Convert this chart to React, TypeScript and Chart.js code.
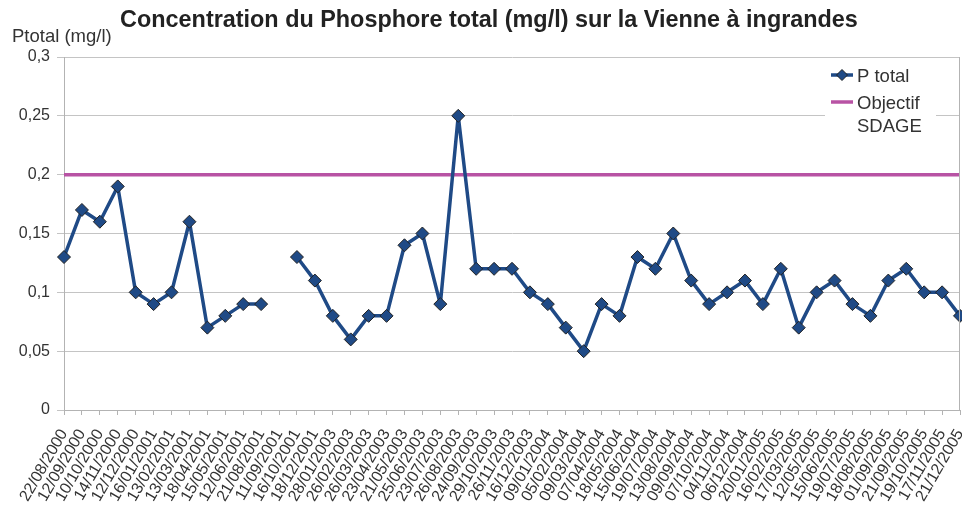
import { useEffect, useRef } from 'react';
import { Chart, registerables } from 'chart.js';

Chart.register(...registerables);

const TITLE = 'Concentration du Phosphore total (mg/l) sur la Vienne à ingrandes';
const Y_TITLE = 'Ptotal (mg/l)';

const dates = [
  '22/08/2000', '12/09/2000', '10/10/2000', '14/11/2000', '12/12/2000', '16/01/2001',
  '13/02/2001', '13/03/2001', '18/04/2001', '15/05/2001', '12/06/2001', '21/08/2001',
  '11/09/2001', '16/10/2001', '18/12/2001', '28/01/2003', '26/02/2003', '26/03/2003',
  '23/04/2003', '21/05/2003', '25/06/2003', '23/07/2003', '26/08/2003', '24/09/2003',
  '29/10/2003', '26/11/2003', '16/12/2003', '09/01/2004', '05/02/2004', '09/03/2004',
  '07/04/2004', '18/05/2004', '15/06/2004', '19/07/2004', '13/08/2004', '09/09/2004',
  '07/10/2004', '04/11/2004', '06/12/2004', '20/01/2005', '16/02/2005', '17/03/2005',
  '12/05/2005', '15/06/2005', '19/07/2005', '18/08/2005', '01/09/2005', '21/09/2005',
  '19/10/2005', '17/11/2005', '21/12/2005',
];

const pTotal: (number | null)[] = [
  0.13, 0.17, 0.16, 0.19, 0.10, 0.09, 0.10, 0.16, 0.07, 0.08, 0.09, 0.09,
  null, 0.13, 0.11, 0.08, 0.06, 0.08, 0.08, 0.14, 0.15, 0.09, 0.25, 0.12,
  0.12, 0.12, 0.10, 0.09, 0.07, 0.05, 0.09, 0.08, 0.13, 0.12, 0.15, 0.11,
  0.09, 0.10, 0.11, 0.09, 0.12, 0.07, 0.10, 0.11, 0.09, 0.08, 0.11, 0.12,
  0.10, 0.10, 0.08,
];

const OBJECTIF_SDAGE = 0.2;
const objectif = dates.map(() => OBJECTIF_SDAGE);

const yTicks = { min: 0, max: 0.3, step: 0.05 };

const BLUE = '#1f4a86';
const MAGENTA = '#b853a4';
const TEXT = '#333333';
const FONT = "'Liberation Sans', Arial, sans-serif";

const extras = {
  id: 'extras',
  afterDraw(chart: any) {
    const ctx = chart.ctx;
    const area = chart.chartArea;
    ctx.save();
    // right border
    ctx.strokeStyle = '#b3b3b3';
    ctx.lineWidth = 1;
    ctx.beginPath();
    ctx.moveTo(area.right - 0.5, area.top);
    ctx.lineTo(area.right - 0.5, area.bottom);
    ctx.stroke();

    // title
    ctx.fillStyle = '#222222';
    ctx.font = `bold 23.4px ${FONT}`;
    ctx.textAlign = 'center';
    ctx.textBaseline = 'middle';
    ctx.fillText(TITLE, 489, 21);

    // y title
    ctx.fillStyle = TEXT;
    ctx.font = `18.5px ${FONT}`;
    ctx.textAlign = 'left';
    ctx.fillText(Y_TITLE, 12, 37);

    // legend
    const lx = 825;
    ctx.fillStyle = '#ffffff';
    ctx.fillRect(lx, 62, 111, 80);
    const ds = chart.data.datasets;
    // P total
    ctx.strokeStyle = BLUE;
    ctx.lineWidth = 3.5;
    ctx.beginPath();
    ctx.moveTo(lx + 6, 75);
    ctx.lineTo(lx + 28, 75);
    ctx.stroke();
    ctx.fillStyle = BLUE;
    ctx.strokeStyle = '#222';
    ctx.lineWidth = 1;
    ctx.beginPath();
    const cx = lx + 17, cy = 75, r = 5.5;
    ctx.moveTo(cx, cy - r);
    ctx.lineTo(cx + r, cy);
    ctx.lineTo(cx, cy + r);
    ctx.lineTo(cx - r, cy);
    ctx.closePath();
    ctx.fill();
    ctx.stroke();
    ctx.fillStyle = TEXT;
    ctx.font = `18.5px ${FONT}`;
    ctx.textAlign = 'left';
    ctx.textBaseline = 'middle';
    ctx.fillText(ds[0].label, lx + 32, 77);
    // Objectif
    ctx.strokeStyle = MAGENTA;
    ctx.lineWidth = 3.5;
    ctx.beginPath();
    ctx.moveTo(lx + 6, 102);
    ctx.lineTo(lx + 28, 102);
    ctx.stroke();
    const parts = String(ds[1].label).split(' ');
    ctx.fillStyle = TEXT;
    ctx.fillText(parts[0], lx + 32, 104);
    ctx.fillText(parts[1], lx + 32, 127);
    ctx.restore();
  },
};

export default function App() {
  const ref = useRef<HTMLCanvasElement>(null);
  useEffect(() => {
    const chart = new Chart(ref.current as HTMLCanvasElement, {
      type: 'line',
      data: {
        labels: dates,
        datasets: [
          {
            label: 'P total',
            data: pTotal,
            borderColor: BLUE,
            backgroundColor: BLUE,
            borderWidth: 3.5,
            borderJoinStyle: 'round',
            pointStyle: 'rectRot',
            pointRadius: 6.5,
            pointBackgroundColor: BLUE,
            pointBorderColor: '#222222',
            pointBorderWidth: 1,
            spanGaps: false,
            tension: 0,
            order: 0,
          },
          {
            label: 'Objectif SDAGE',
            data: objectif,
            borderColor: MAGENTA,
            backgroundColor: MAGENTA,
            borderWidth: 3.5,
            pointRadius: 0,
            tension: 0,
            order: 1,
          },
        ],
      },
      options: {
        animation: false,
        responsive: false,
        maintainAspectRatio: false,
        layout: { autoPadding: false, padding: { top: 57, right: 2, left: 0, bottom: 0 } },
        plugins: {
          legend: { display: false },
          title: { display: false },
          tooltip: { enabled: false },
        },
        scales: {
          x: {
            offset: false,
            grid: { drawOnChartArea: false, drawTicks: true, tickLength: 5, color: '#b3b3b3' },
            border: { color: '#b3b3b3' },
            ticks: {
              autoSkip: false,
              maxRotation: 60,
              minRotation: 60,
              color: TEXT,
              font: { family: FONT, size: 16 },
              padding: 11,
            },
            afterFit(scale: any) {
              scale.height = 96;
              scale.paddingLeft = 0;
              scale.paddingRight = 0;
            },
          },
          y: {
            min: yTicks.min,
            max: yTicks.max,
            grid: { color: '#c4c4c4', tickLength: 7 },
            border: { color: '#b3b3b3' },
            ticks: {
              stepSize: yTicks.step,
              color: TEXT,
              font: { family: FONT, size: 16 },
              padding: 7,
              callback: (v: any) => Number(Number(v).toFixed(2)).toString().replace('.', ','),
            },
            afterFit(scale: any) {
              scale.width = 64;
            },
          },
        },
      },
      plugins: [extras],
    });
    return () => chart.destroy();
  }, []);
  return (
    <div style={{ position: 'fixed', left: 0, top: 0, width: 962, height: 506, background: '#fff' }}>
      <canvas ref={ref} width={962} height={506} style={{ width: 962, height: 506 }} />
    </div>
  );
}
